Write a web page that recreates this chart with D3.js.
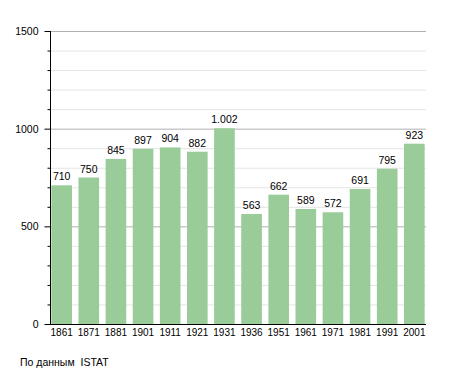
<!DOCTYPE html>
<html>
<head>
<meta charset="utf-8">
<script src="https://cdn.jsdelivr.net/npm/d3@7"></script>
<style>
  body { margin: 0; background: #fff; }
  svg { font-family: "Liberation Sans", Arial, sans-serif; }
</style>
</head>
<body>
<svg id="chart" width="455" height="373"></svg>
<script>
var years = ["1861", "1871", "1881", "1901", "1911", "1921", "1931", "1936", "1951", "1961", "1971", "1981", "1991", "2001"];
var population = [710, 750, 845, 897, 904, 882, 1002, 563, 662, 589, 572, 691, 795, 923];
var majorTicks = [0, 500, 1000, 1500];
var minorTicks = d3.range(100, 1500, 100).filter(function(v) { return v % 500 !== 0; });

var format = d3.formatLocale({ decimal: ",", thousands: ".", grouping: [3], currency: ["", ""] }).format(",d");

(function() {
  var svg = d3.select("#chart");
  var left = 50, right = 426, top = 31, bottom = 324;

  var x = d3.scaleBand().domain(years).range([left, right]).paddingInner(0.24).paddingOuter(0.05);
  var y = d3.scaleLinear().domain([0, 1500]).range([bottom, top]);

  // grid
  svg.append("g").selectAll("line").data(minorTicks).enter().append("line")
    .attr("x1", left).attr("x2", right)
    .attr("y1", function(d) { return y(d) + 0.5; })
    .attr("y2", function(d) { return y(d) + 0.5; })
    .attr("stroke", "#e4e4e4");
  svg.append("g").selectAll("line").data(majorTicks.slice(1)).enter().append("line")
    .attr("x1", left).attr("x2", right)
    .attr("y1", function(d) { return y(d) + 0.5; })
    .attr("y2", function(d) { return y(d) + 0.5; })
    .attr("stroke", "#b0b0b0");

  // bars
  svg.append("g").selectAll("rect").data(years).enter().append("rect")
    .attr("x", function(d) { return x(d); })
    .attr("width", x.bandwidth())
    .attr("y", function(d, i) { return y(population[i]); })
    .attr("height", function(d, i) { return bottom - y(population[i]); })
    .attr("fill", "#99cc99");

  // value labels
  svg.append("g").selectAll("text").data(years).enter().append("text")
    .attr("x", function(d) { return x(d) + x.bandwidth() / 2; })
    .attr("y", function(d, i) { return y(population[i]) - 5; })
    .attr("text-anchor", "middle")
    .attr("font-size", 10.5)
    .attr("fill", "#000")
    .text(function(d, i) { return format(population[i]); });

  // y axis
  var yAxis = svg.append("g").attr("transform", "translate(" + (left + 0.5) + ",0)");
  yAxis.append("line").attr("y1", top).attr("y2", bottom).attr("stroke", "#000");
  yAxis.selectAll(".minor").data(minorTicks).enter().append("line")
    .attr("x1", -3).attr("x2", 0)
    .attr("y1", function(d) { return y(d) + 0.5; })
    .attr("y2", function(d) { return y(d) + 0.5; })
    .attr("stroke", "#000");
  yAxis.selectAll(".major").data(majorTicks).enter().append("line")
    .attr("x1", -6).attr("x2", 0)
    .attr("y1", function(d) { return y(d) + 0.5; })
    .attr("y2", function(d) { return y(d) + 0.5; })
    .attr("stroke", "#000");
  yAxis.selectAll("text").data(majorTicks).enter().append("text")
    .attr("x", -12)
    .attr("y", function(d) { return y(d) + 4; })
    .attr("text-anchor", "end")
    .attr("font-size", 10.5)
    .text(function(d) { return d; });

  // x axis
  svg.append("line")
    .attr("x1", left).attr("x2", right)
    .attr("y1", bottom + 0.5).attr("y2", bottom + 0.5)
    .attr("stroke", "#000");
  svg.append("g").selectAll("text").data(years).enter().append("text")
    .attr("x", function(d) { return x(d) + x.bandwidth() / 2; })
    .attr("y", bottom + 12)
    .attr("text-anchor", "middle")
    .attr("font-size", 10)
    .text(function(d) { return d; });

  svg.append("text")
    .attr("x", 20).attr("y", 366)
    .attr("font-size", 10.5)
    .attr("xml:space", "preserve")
    .text("По данным  ISTAT");
})();
</script>
</body>
</html>
